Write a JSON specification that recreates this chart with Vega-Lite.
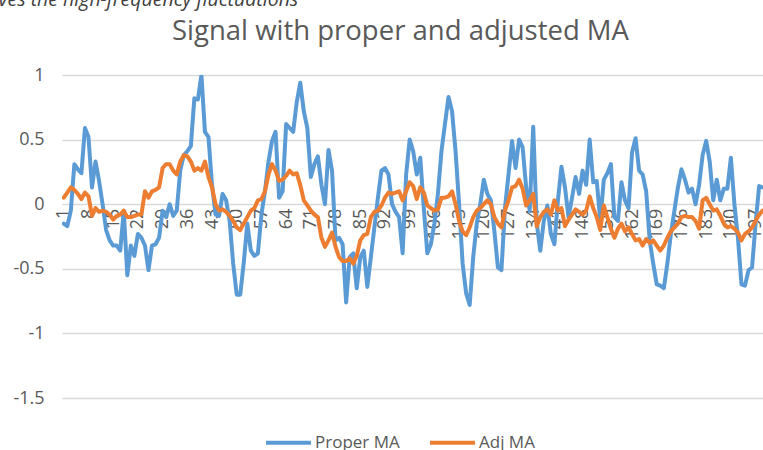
{
"$schema": "https://vega.github.io/schema/vega-lite/v6.json",
"width": 701,
"height": 323,
"autosize": {"type": "none"},
"padding": {"left": 62, "top": 75, "right": 0, "bottom": 52},
"background": "white",
"config": {"view": {"stroke": null}, "font": "Open Sans"},
"data": {"values": [
{"i":1,"Proper MA":-0.15,"Adj MA":0.05},
{"i":2,"Proper MA":-0.17,"Adj MA":0.09},
{"i":3,"Proper MA":-0.05,"Adj MA":0.13},
{"i":4,"Proper MA":0.31,"Adj MA":0.11},
{"i":5,"Proper MA":0.27,"Adj MA":0.08},
{"i":6,"Proper MA":0.24,"Adj MA":0.04},
{"i":7,"Proper MA":0.59,"Adj MA":0.09},
{"i":8,"Proper MA":0.52,"Adj MA":0.06},
{"i":9,"Proper MA":0.13,"Adj MA":-0.09},
{"i":10,"Proper MA":0.33,"Adj MA":-0.03},
{"i":11,"Proper MA":0.18,"Adj MA":-0.06},
{"i":12,"Proper MA":0.0,"Adj MA":-0.05},
{"i":13,"Proper MA":-0.2,"Adj MA":-0.06},
{"i":14,"Proper MA":-0.28,"Adj MA":-0.08},
{"i":15,"Proper MA":-0.32,"Adj MA":-0.12},
{"i":16,"Proper MA":-0.32,"Adj MA":-0.09},
{"i":17,"Proper MA":-0.36,"Adj MA":-0.08},
{"i":18,"Proper MA":-0.05,"Adj MA":-0.05},
{"i":19,"Proper MA":-0.55,"Adj MA":-0.1},
{"i":20,"Proper MA":-0.32,"Adj MA":-0.1},
{"i":21,"Proper MA":-0.4,"Adj MA":-0.09},
{"i":22,"Proper MA":-0.23,"Adj MA":-0.08},
{"i":23,"Proper MA":-0.26,"Adj MA":-0.08},
{"i":24,"Proper MA":-0.32,"Adj MA":0.1},
{"i":25,"Proper MA":-0.51,"Adj MA":0.05},
{"i":26,"Proper MA":-0.32,"Adj MA":0.1},
{"i":27,"Proper MA":-0.31,"Adj MA":0.11},
{"i":28,"Proper MA":-0.26,"Adj MA":0.13},
{"i":29,"Proper MA":-0.05,"Adj MA":0.28},
{"i":30,"Proper MA":-0.1,"Adj MA":0.31},
{"i":31,"Proper MA":0.0,"Adj MA":0.31},
{"i":32,"Proper MA":-0.09,"Adj MA":0.26},
{"i":33,"Proper MA":-0.05,"Adj MA":0.23},
{"i":34,"Proper MA":0.26,"Adj MA":0.33},
{"i":35,"Proper MA":0.38,"Adj MA":0.38},
{"i":36,"Proper MA":0.41,"Adj MA":0.37},
{"i":37,"Proper MA":0.45,"Adj MA":0.33},
{"i":38,"Proper MA":0.82,"Adj MA":0.26},
{"i":39,"Proper MA":0.81,"Adj MA":0.28},
{"i":40,"Proper MA":1.0,"Adj MA":0.26},
{"i":41,"Proper MA":0.56,"Adj MA":0.33},
{"i":42,"Proper MA":0.52,"Adj MA":0.21},
{"i":43,"Proper MA":0.15,"Adj MA":0.13},
{"i":44,"Proper MA":-0.08,"Adj MA":0.0},
{"i":45,"Proper MA":-0.09,"Adj MA":-0.05},
{"i":46,"Proper MA":0.08,"Adj MA":-0.04},
{"i":47,"Proper MA":0.03,"Adj MA":-0.06},
{"i":48,"Proper MA":-0.13,"Adj MA":-0.09},
{"i":49,"Proper MA":-0.46,"Adj MA":-0.13},
{"i":50,"Proper MA":-0.7,"Adj MA":-0.18},
{"i":51,"Proper MA":-0.7,"Adj MA":-0.2},
{"i":52,"Proper MA":-0.45,"Adj MA":-0.15},
{"i":53,"Proper MA":-0.15,"Adj MA":-0.1},
{"i":54,"Proper MA":-0.36,"Adj MA":-0.05},
{"i":55,"Proper MA":-0.4,"Adj MA":-0.03},
{"i":56,"Proper MA":-0.38,"Adj MA":0.03},
{"i":57,"Proper MA":-0.08,"Adj MA":0.04},
{"i":58,"Proper MA":0.1,"Adj MA":0.1},
{"i":59,"Proper MA":0.33,"Adj MA":0.23},
{"i":60,"Proper MA":0.49,"Adj MA":0.31},
{"i":61,"Proper MA":0.56,"Adj MA":0.26},
{"i":62,"Proper MA":0.05,"Adj MA":0.18},
{"i":63,"Proper MA":0.1,"Adj MA":0.19},
{"i":64,"Proper MA":0.62,"Adj MA":0.22},
{"i":65,"Proper MA":0.59,"Adj MA":0.26},
{"i":66,"Proper MA":0.56,"Adj MA":0.23},
{"i":67,"Proper MA":0.79,"Adj MA":0.24},
{"i":68,"Proper MA":0.94,"Adj MA":0.15},
{"i":69,"Proper MA":0.72,"Adj MA":0.03},
{"i":70,"Proper MA":0.59,"Adj MA":-0.01},
{"i":71,"Proper MA":0.21,"Adj MA":-0.05},
{"i":72,"Proper MA":0.31,"Adj MA":-0.08},
{"i":73,"Proper MA":0.37,"Adj MA":-0.1},
{"i":74,"Proper MA":0.15,"Adj MA":-0.26},
{"i":75,"Proper MA":0.0,"Adj MA":-0.33},
{"i":76,"Proper MA":0.42,"Adj MA":-0.28},
{"i":77,"Proper MA":0.26,"Adj MA":-0.22},
{"i":78,"Proper MA":-0.28,"Adj MA":-0.33},
{"i":79,"Proper MA":-0.26,"Adj MA":-0.41},
{"i":80,"Proper MA":-0.31,"Adj MA":-0.44},
{"i":81,"Proper MA":-0.76,"Adj MA":-0.44},
{"i":82,"Proper MA":-0.41,"Adj MA":-0.42},
{"i":83,"Proper MA":-0.38,"Adj MA":-0.46},
{"i":84,"Proper MA":-0.65,"Adj MA":-0.4},
{"i":85,"Proper MA":-0.41,"Adj MA":-0.28},
{"i":86,"Proper MA":-0.36,"Adj MA":-0.24},
{"i":87,"Proper MA":-0.64,"Adj MA":-0.23},
{"i":88,"Proper MA":-0.41,"Adj MA":-0.1},
{"i":89,"Proper MA":-0.18,"Adj MA":-0.06},
{"i":90,"Proper MA":0.05,"Adj MA":-0.05},
{"i":91,"Proper MA":0.26,"Adj MA":-0.01},
{"i":92,"Proper MA":0.28,"Adj MA":0.05},
{"i":93,"Proper MA":0.23,"Adj MA":0.09},
{"i":94,"Proper MA":0.0,"Adj MA":0.08},
{"i":95,"Proper MA":-0.06,"Adj MA":0.09},
{"i":96,"Proper MA":-0.1,"Adj MA":0.1},
{"i":97,"Proper MA":-0.38,"Adj MA":0.03},
{"i":98,"Proper MA":0.23,"Adj MA":0.1},
{"i":99,"Proper MA":0.5,"Adj MA":0.17},
{"i":100,"Proper MA":0.41,"Adj MA":0.14},
{"i":101,"Proper MA":0.23,"Adj MA":0.04},
{"i":102,"Proper MA":0.36,"Adj MA":0.13},
{"i":103,"Proper MA":-0.03,"Adj MA":0.09},
{"i":104,"Proper MA":-0.38,"Adj MA":-0.01},
{"i":105,"Proper MA":-0.31,"Adj MA":-0.03},
{"i":106,"Proper MA":-0.15,"Adj MA":-0.05},
{"i":107,"Proper MA":0.08,"Adj MA":-0.04},
{"i":108,"Proper MA":0.41,"Adj MA":0.05},
{"i":109,"Proper MA":0.62,"Adj MA":0.05},
{"i":110,"Proper MA":0.83,"Adj MA":0.06},
{"i":111,"Proper MA":0.72,"Adj MA":0.1},
{"i":112,"Proper MA":0.41,"Adj MA":0.0},
{"i":113,"Proper MA":0.0,"Adj MA":-0.13},
{"i":114,"Proper MA":-0.46,"Adj MA":-0.21},
{"i":115,"Proper MA":-0.69,"Adj MA":-0.24},
{"i":116,"Proper MA":-0.78,"Adj MA":-0.18},
{"i":117,"Proper MA":-0.41,"Adj MA":-0.1},
{"i":118,"Proper MA":-0.15,"Adj MA":-0.05},
{"i":119,"Proper MA":0.0,"Adj MA":-0.03},
{"i":120,"Proper MA":0.19,"Adj MA":0.0},
{"i":121,"Proper MA":0.08,"Adj MA":0.03},
{"i":122,"Proper MA":0.03,"Adj MA":0.0},
{"i":123,"Proper MA":-0.21,"Adj MA":-0.1},
{"i":124,"Proper MA":-0.49,"Adj MA":-0.15},
{"i":125,"Proper MA":-0.51,"Adj MA":-0.18},
{"i":126,"Proper MA":-0.03,"Adj MA":-0.05},
{"i":127,"Proper MA":0.23,"Adj MA":0.03},
{"i":128,"Proper MA":0.49,"Adj MA":0.13},
{"i":129,"Proper MA":0.28,"Adj MA":0.14},
{"i":130,"Proper MA":0.5,"Adj MA":0.19},
{"i":131,"Proper MA":0.44,"Adj MA":0.12},
{"i":132,"Proper MA":0.13,"Adj MA":-0.01},
{"i":133,"Proper MA":-0.05,"Adj MA":0.03},
{"i":134,"Proper MA":0.6,"Adj MA":0.08},
{"i":135,"Proper MA":-0.15,"Adj MA":-0.17},
{"i":136,"Proper MA":-0.36,"Adj MA":-0.1},
{"i":137,"Proper MA":-0.13,"Adj MA":-0.06},
{"i":138,"Proper MA":-0.01,"Adj MA":-0.04},
{"i":139,"Proper MA":-0.23,"Adj MA":-0.08},
{"i":140,"Proper MA":-0.31,"Adj MA":0.03},
{"i":141,"Proper MA":0.03,"Adj MA":-0.05},
{"i":142,"Proper MA":0.29,"Adj MA":-0.03},
{"i":143,"Proper MA":0.13,"Adj MA":-0.17},
{"i":144,"Proper MA":-0.1,"Adj MA":-0.12},
{"i":145,"Proper MA":0.05,"Adj MA":-0.08},
{"i":146,"Proper MA":0.21,"Adj MA":-0.04},
{"i":147,"Proper MA":0.08,"Adj MA":-0.06},
{"i":148,"Proper MA":0.26,"Adj MA":-0.08},
{"i":149,"Proper MA":0.15,"Adj MA":-0.05},
{"i":150,"Proper MA":0.5,"Adj MA":0.06},
{"i":151,"Proper MA":0.17,"Adj MA":-0.03},
{"i":152,"Proper MA":0.18,"Adj MA":-0.1},
{"i":153,"Proper MA":-0.13,"Adj MA":-0.2},
{"i":154,"Proper MA":0.19,"Adj MA":-0.01},
{"i":155,"Proper MA":0.24,"Adj MA":-0.1},
{"i":156,"Proper MA":0.31,"Adj MA":-0.19},
{"i":157,"Proper MA":-0.1,"Adj MA":-0.26},
{"i":158,"Proper MA":-0.13,"Adj MA":-0.19},
{"i":159,"Proper MA":0.17,"Adj MA":-0.15},
{"i":160,"Proper MA":0.03,"Adj MA":-0.21},
{"i":161,"Proper MA":-0.03,"Adj MA":-0.18},
{"i":162,"Proper MA":0.4,"Adj MA":-0.23},
{"i":163,"Proper MA":0.51,"Adj MA":-0.28},
{"i":164,"Proper MA":0.26,"Adj MA":-0.27},
{"i":165,"Proper MA":0.23,"Adj MA":-0.32},
{"i":166,"Proper MA":0.1,"Adj MA":-0.27},
{"i":167,"Proper MA":-0.28,"Adj MA":-0.3},
{"i":168,"Proper MA":-0.46,"Adj MA":-0.28},
{"i":169,"Proper MA":-0.62,"Adj MA":-0.32},
{"i":170,"Proper MA":-0.63,"Adj MA":-0.36},
{"i":171,"Proper MA":-0.65,"Adj MA":-0.32},
{"i":172,"Proper MA":-0.46,"Adj MA":-0.26},
{"i":173,"Proper MA":-0.23,"Adj MA":-0.21},
{"i":174,"Proper MA":-0.05,"Adj MA":-0.18},
{"i":175,"Proper MA":0.13,"Adj MA":-0.15},
{"i":176,"Proper MA":0.27,"Adj MA":-0.1},
{"i":177,"Proper MA":0.19,"Adj MA":-0.09},
{"i":178,"Proper MA":0.09,"Adj MA":-0.1},
{"i":179,"Proper MA":0.12,"Adj MA":-0.1},
{"i":180,"Proper MA":0.0,"Adj MA":-0.13},
{"i":181,"Proper MA":0.15,"Adj MA":-0.19},
{"i":182,"Proper MA":0.38,"Adj MA":0.03},
{"i":183,"Proper MA":0.49,"Adj MA":0.05},
{"i":184,"Proper MA":0.33,"Adj MA":0.0},
{"i":185,"Proper MA":0.03,"Adj MA":-0.05},
{"i":186,"Proper MA":0.19,"Adj MA":-0.04},
{"i":187,"Proper MA":0.03,"Adj MA":-0.09},
{"i":188,"Proper MA":0.12,"Adj MA":-0.15},
{"i":189,"Proper MA":0.12,"Adj MA":-0.18},
{"i":190,"Proper MA":0.36,"Adj MA":-0.17},
{"i":191,"Proper MA":0.0,"Adj MA":-0.19},
{"i":192,"Proper MA":-0.26,"Adj MA":-0.22},
{"i":193,"Proper MA":-0.62,"Adj MA":-0.28},
{"i":194,"Proper MA":-0.63,"Adj MA":-0.23},
{"i":195,"Proper MA":-0.51,"Adj MA":-0.21},
{"i":196,"Proper MA":-0.49,"Adj MA":-0.18},
{"i":197,"Proper MA":-0.15,"Adj MA":-0.13},
{"i":198,"Proper MA":0.14,"Adj MA":-0.08},
{"i":199,"Proper MA":0.13,"Adj MA":-0.05}
]},
"transform": [{"fold": ["Proper MA", "Adj MA"], "as": ["series", "value"]}],
"mark": {"type": "line", "strokeWidth": 4, "strokeJoin": "round", "strokeCap": "round", "clip": true},
"encoding": {
"x": {"field": "i", "type": "quantitative", "scale": {"domain": [0.5, 199.1], "nice": false, "zero": false},
"axis": {"values": [1,8,15,22,29,36,43,50,57,64,71,78,85,92,99,106,113,120,127,134,141,148,155,162,169,176,183,190,197], "labelAngle": -90, "offset": -193.8, "domain": false, "ticks": false, "grid": false, "labelPadding": 4, "labelFontSize": 18, "labelColor": "#595959", "labelFlush": false, "labelOverlap": false,
"title": "ves the high-frequency fluctuations", "titleAngle": 0, "titleAlign": "left", "titleBaseline": "alphabetic", "titleX": -64, "titleY": -199, "titleFontStyle": "italic", "titleFontWeight": "normal", "titleFontSize": 19.5, "titleColor": "#404040"}},
"y": {"field": "value", "type": "quantitative", "scale": {"domain": [-1.5, 1], "nice": false, "zero": false},
"axis": {"values": [-1.5,-1,-0.5,0,0.5,1], "labelExpr": "toString(datum.value)", "domain": false, "ticks": false, "gridColor": "#d9d9d9", "gridWidth": 1.3, "labelPadding": 18, "labelFontSize": 18, "labelColor": "#595959",
"title": "Signal with proper and adjusted MA", "titleAngle": 0, "titleAlign": "center", "titleBaseline": "alphabetic", "titleX": 338, "titleY": -36, "titleFontSize": 27.5, "titleFontWeight": "normal", "titleColor": "#595959"}},
"color": {"field": "series", "type": "nominal", "sort": ["Proper MA", "Adj MA"], "scale": {"domain": ["Proper MA", "Adj MA"], "range": ["#5B9BD5", "#ED7D31"]},
"legend": {"title": null, "orient": "none", "legendX": 202, "legendY": 343, "direction": "horizontal", "symbolType": "stroke", "symbolSize": 2025, "symbolStrokeWidth": 4, "labelFontSize": 17, "labelColor": "#595959", "labelOffset": 2, "columnPadding": 22}}
}
}
